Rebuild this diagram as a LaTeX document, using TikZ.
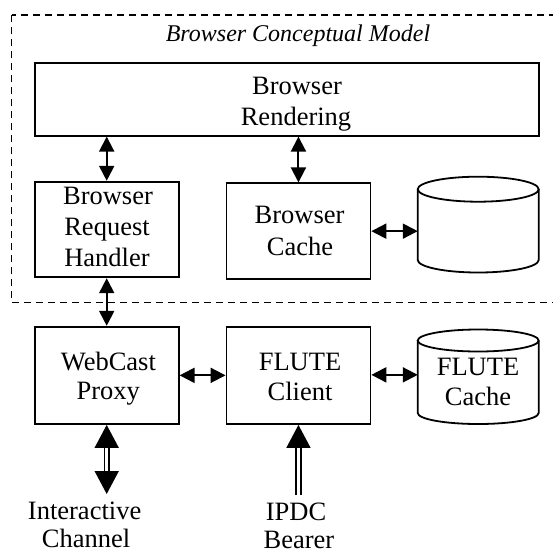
\documentclass[tikz,border=0pt]{standalone}
\usepackage{fontspec}
\setmainfont{Liberation Serif}
\usetikzlibrary{arrows.meta,calc}
\begin{document}
\begin{tikzpicture}[x=1pt,y=1pt,
  box/.style={draw,line width=1.8pt,inner sep=0pt,minimum width=144pt,minimum height=96pt},
  ghost/.style={inner sep=0pt,outer sep=0pt},
  lbl/.style={anchor=base,inner sep=0pt,font=\fontsize{26.5}{31}\selectfont},
  ttl/.style={anchor=base,inner sep=0pt,font=\fontsize{24}{28}\selectfont\itshape},
  arr/.style={line width=2pt,{Triangle[length=15pt,width=15pt]}-{Triangle[length=15pt,width=15pt]}},
  bigtip/.tip={Triangle[length=23pt,width=24pt]},
  dbl/.style={line width=1.6pt,double,double distance=3.2pt},
  cylline/.style={line width=1.8pt},
  frame/.style={line width=1.3pt,dash pattern=on 7.3pt off 4.7pt}]
\useasboundingbox (0,0) rectangle (553,-549);
\clip (0,0) rectangle (553,-549);

% dashed frame
\draw[frame] (11.6,-15) rectangle (620,-302.7);
\node[ttl] (title) at (298,-41) {Browser Conceptual Model};

% boxes
\node[box,minimum width=504pt,minimum height=72.4pt] (rend) at (286.6,-99.5) {};
\node[box,minimum height=95.6pt] (hand) at (106.7,-229.5) {};
\node[box,minimum height=95.7pt] (bcache) at (298.45,-231.15) {};
\node[box,minimum height=97.3pt] (proxy) at (106.7,-375.35) {};
\node[box,minimum height=97.3pt] (client) at (298.45,-375.35) {};

% cylinders (outline areas)
\node[ghost,minimum width=120.9pt,minimum height=95.8pt] (cyl1) at (478.2,-224.6) {};
\node[ghost,minimum width=120.9pt,minimum height=94.5pt] (cyl2) at (478.2,-376.75) {};
\draw[cylline] (478.2,-189.2) ellipse [x radius=60.45, y radius=12.5];
\draw[cylline] (417.75,-189.2) -- (417.75,-260) arc[start angle=180,end angle=360,x radius=60.45,y radius=12.5] -- (538.65,-189.2);
\draw[cylline] (478.2,-340.5) ellipse [x radius=60.45, y radius=11];
\draw[cylline] (417.75,-340.5) -- (417.75,-413) arc[start angle=180,end angle=360,x radius=60.45,y radius=11] -- (538.65,-340.5);

% texts
\node[lbl] (r1) at (297,-94.3) {Browser};
\node[lbl] (r2) at (296,-125) {Rendering};
\node[lbl] (h1) at (108,-204) {Browser};
\node[lbl] (h2) at (107,-235) {Request};
\node[lbl] (h3) at (107,-266.7) {Handler};
\node[lbl] (c1) at (299.6,-223) {Browser};
\node[lbl] (c2) at (300,-255) {Cache};
\node[lbl] (p1) at (108.4,-370) {WebCast};
\node[lbl] (p2) at (108.3,-399.5) {Proxy};
\node[lbl] (f1) at (300,-370.7) {FLUTE};
\node[lbl] (f2) at (300,-400) {Client};
\node[lbl] (fc1) at (478,-375) {FLUTE};
\node[lbl] (fc2) at (478,-405) {Cache};
\node[lbl] (i1) at (84.6,-519) {Interactive};
\node[lbl] (i2) at (86,-547) {Channel};
\node[lbl] (b1) at (296,-520) {IPDC};
\node[lbl] (b2) at (299,-548) {Bearer};

% connectors
\draw[arr] (hand.north) -- (hand.north |- rend.south);
\draw[arr] (bcache.north) -- (bcache.north |- rend.south);
\draw[arr] (bcache.east) -- (bcache.east -| cyl1.west);
\draw[arr] (hand.south) -- (proxy.north);
\draw[arr] (proxy.east) -- (client.west);
\draw[arr] ($(client.east)+(0,0.5)$) -- ($(client.east -| cyl2.west)+(0,0.5)$);

\coordinate (ic) at (106.7,-494);
\coordinate (ip) at (298.45,-495);
\draw[dbl,{bigtip}-{bigtip}] (proxy.south) -- (ic);
\draw[dbl,-{bigtip}] (ip) -- (client.south);
\end{tikzpicture}
\end{document}
